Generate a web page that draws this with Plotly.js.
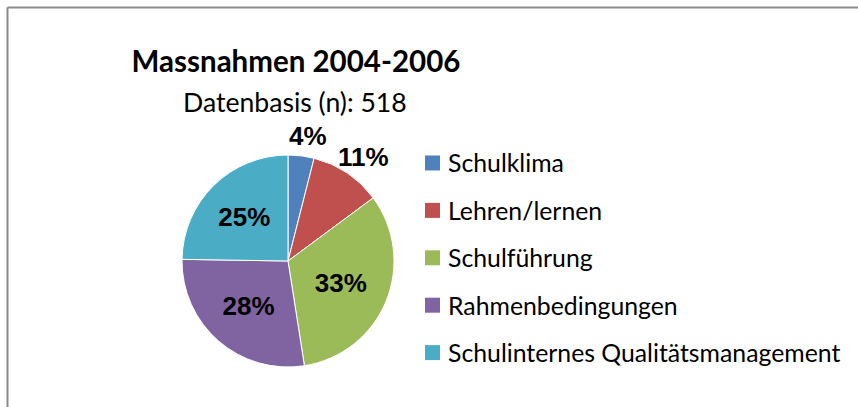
<!DOCTYPE html>
<html>
<head>
<meta charset="utf-8">
<script src="https://cdn.plot.ly/plotly-3.0.1.min.js"></script>
<style>html,body{margin:0;padding:0;background:#fff;}#chart{width:858px;height:407px;}</style>
</head>
<body>
<div id="chart"></div>
<script>
// Data
const categories = ["Schulklima", "Lehren/lernen", "Schulführung", "Rahmenbedingungen", "Schulinternes Qualitätsmanagement"];
const percentValues = [4, 11, 33, 28, 25];
const sliceColors = ["#4F81BD", "#C0504D", "#9BBB59", "#8064A2", "#4BACC6"];
const labelOutside = [true, true, false, false, false];
const chartTitle = "Massnahmen 2004-2006";
const chartSubtitle = "Datenbasis (n): 518";

const W = 858, H = 407;
const px = x => x / W;
const py = y => 1 - y / H;

const cx = 288, cy = 261, r = 106;
const bodyFont = "Lato, 'Open Sans', sans-serif";
const labelFont = {family: "'Liberation Sans', Arial, sans-serif", size: 26, color: "#000", weight: "bold"};

const shapes = [
  {type: "line", xref: "paper", yref: "paper", x0: px(7.5), x1: 1, y0: py(7.5), y1: py(7.5), line: {color: "#8a8a8a", width: 2}},
  {type: "line", xref: "paper", yref: "paper", x0: px(7.5), x1: px(7.5), y0: py(7.5), y1: 0, line: {color: "#8a8a8a", width: 2}}
];
const annotations = [
  {xref: "paper", yref: "paper", x: px(295), y: py(102), xanchor: "center", yanchor: "middle", showarrow: false,
   text: chartSubtitle, font: {family: bodyFont, size: 26.6, color: "#000"}}
];
// manual legend
const legX = 425, legY0 = 163, legStep = 47.4, sq = 15;
categories.forEach((c, i) => {
  const yc = legY0 + i * legStep;
  shapes.push({type: "rect", xref: "paper", yref: "paper", x0: px(legX), x1: px(legX + sq),
    y0: py(yc - sq / 2), y1: py(yc + sq / 2), fillcolor: sliceColors[i], line: {width: 0}});
  annotations.push({xref: "paper", yref: "paper", x: px(legX + sq + 6), y: py(yc), xanchor: "left", yanchor: "middle",
    showarrow: false, text: c, font: {family: bodyFont, size: 24.8, color: "#000"}});
});

// outside data labels, placed along each slice's mid-angle
const total = percentValues.reduce((a, b) => a + b, 0);
let cum = 0;
const insideText = [];
percentValues.forEach((v, i) => {
  const mid = (cum + v / 2) / total * 2 * Math.PI;
  cum += v;
  if (labelOutside[i]) {
    const R = r + 22;
    annotations.push({xref: "paper", yref: "paper", x: px(cx + R * Math.sin(mid) + 4), y: py(cy - R * Math.cos(mid) + 2),
      xanchor: "center", yanchor: "middle", showarrow: false, text: v + "%", font: labelFont});
    insideText.push("");
  } else {
    insideText.push(v + "%");
  }
});

const trace = {
  type: "pie",
  labels: categories,
  values: percentValues,
  text: insideText,
  sort: false,
  direction: "clockwise",
  rotation: 0,
  marker: {colors: sliceColors, line: {color: "#ffffff", width: 1}},
  textinfo: "text",
  textposition: "inside",
  insidetextorientation: "horizontal",
  textfont: labelFont,
  hoverinfo: "none",
  showlegend: false,
  automargin: false,
  domain: {x: [px(cx - r), px(cx + r)], y: [py(cy + r), py(cy - r)]}
};

const layout = {
  width: W, height: H,
  margin: {l: 0, r: 0, t: 0, b: 0},
  paper_bgcolor: "#fff",
  showlegend: false,
  title: {text: "<b>" + chartTitle + "</b>", xref: "paper", yref: "paper", x: px(296), y: py(62),
    xanchor: "center", yanchor: "middle", font: {family: bodyFont, size: 29.5, color: "#000"}},
  shapes: shapes,
  annotations: annotations
};

Plotly.newPlot("chart", [trace], layout, {displayModeBar: false, staticPlot: true});
</script>
</body>
</html>
